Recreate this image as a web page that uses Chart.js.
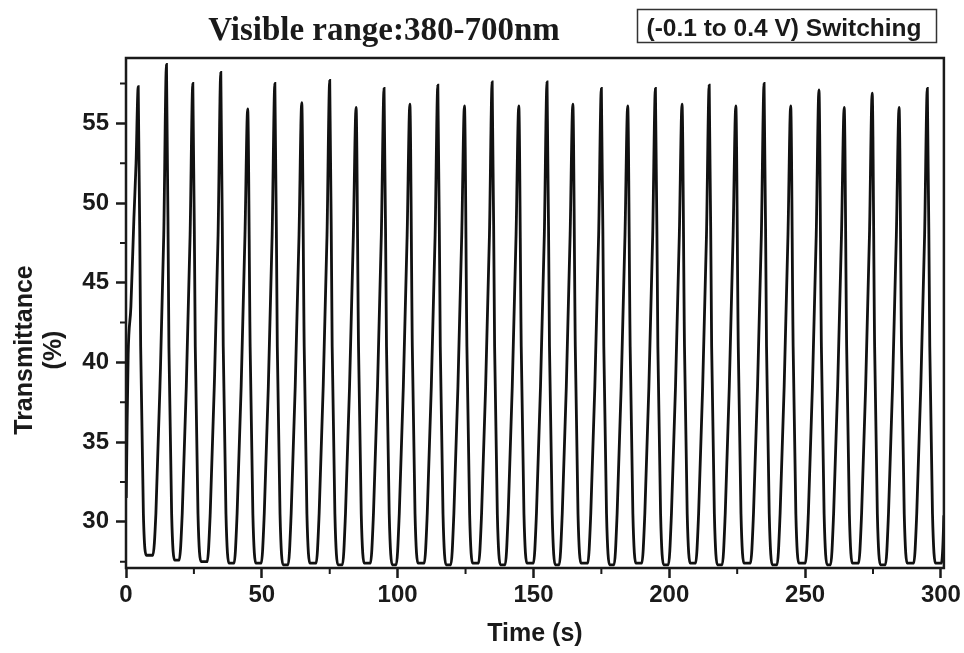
<!DOCTYPE html>
<html lang="en">
<head>
<meta charset="UTF-8">
<title>Transmittance switching</title>
<script src="https://cdn.jsdelivr.net/npm/chart.js"></script>
<style>
  html, body { margin: 0; padding: 0; background: #fff; }
  #wrap { width: 964px; height: 653px; }
</style>
</head>
<body>
<div id="wrap"><canvas id="switchChart" width="964" height="653"></canvas></div>
<script>
// time (s) and transmittance (%), one line per cycle
const timeS = [
  0.1, 0.4, 0.8, 1.8, 2.9, 3.7, 4.5,
  5.4, 6.4, 7.5, 9.9, 11.0, 12.5, 13.9, 14.9,
  15.8, 16.8, 17.9, 19.6, 20.7, 22.2, 23.6, 24.6,
  25.5, 26.5, 27.6, 29.9, 31.0, 32.5, 33.9, 34.9,
  35.8, 36.8, 37.9, 39.8, 40.9, 42.4, 43.8, 44.8,
  45.7, 46.7, 47.8, 49.8, 50.9, 52.4, 53.8, 54.8,
  55.7, 56.7, 57.8, 59.7, 60.8, 62.3, 63.7, 64.7,
  65.6, 66.6, 67.7, 70.0, 71.1, 72.6, 74.0, 75.0,
  75.9, 76.9, 78.0, 79.7, 80.8, 82.3, 83.7, 84.7,
  85.6, 86.6, 87.7, 90.0, 91.1, 92.6, 94.0, 95.0,
  95.9, 96.9, 98.0, 99.5, 100.6, 102.1, 103.5, 104.5,
  105.4, 106.4, 107.5, 109.8, 110.9, 112.4, 113.8, 114.8,
  115.7, 116.7, 117.8, 119.6, 120.7, 122.2, 123.6, 124.6,
  125.5, 126.5, 127.6, 129.8, 130.9, 132.4, 133.8, 134.8,
  135.7, 136.7, 137.8, 139.6, 140.7, 142.2, 143.6, 144.6,
  145.5, 146.5, 147.6, 150.0, 151.1, 152.6, 154.0, 155.0,
  155.9, 156.9, 158.0, 159.5, 160.6, 162.1, 163.5, 164.5,
  165.4, 166.4, 167.5, 170.0, 171.1, 172.6, 174.0, 175.0,
  175.9, 176.9, 178.0, 179.7, 180.8, 182.3, 183.7, 184.7,
  185.6, 186.6, 187.7, 189.9, 191.0, 192.5, 193.9, 194.9,
  195.8, 196.8, 197.9, 199.7, 200.8, 202.3, 203.7, 204.7,
  205.6, 206.6, 207.7, 209.7, 210.8, 212.3, 213.7, 214.7,
  215.6, 216.6, 217.7, 219.5, 220.6, 222.1, 223.5, 224.5,
  225.4, 226.4, 227.5, 229.9, 231.0, 232.5, 233.9, 234.9,
  235.8, 236.8, 237.9, 239.7, 240.8, 242.3, 243.7, 244.7,
  245.6, 246.6, 247.7, 250.1, 251.2, 252.7, 254.1, 255.1,
  256.0, 257.0, 258.1, 259.4, 260.5, 262.0, 263.4, 264.4,
  265.3, 266.3, 267.4, 269.7, 270.8, 272.3, 273.7, 274.7,
  275.6, 276.6, 277.7, 279.6, 280.7, 282.2, 283.6, 284.6,
  285.5, 286.5, 287.6, 290.0, 291.1, 292.6, 294.0, 295.0,
  295.9, 296.9, 298.0, 300.2, 300.7, 301.1
];
const transPct = [
  31.5, 36, 40.5, 43.5, 49, 52.5, 57.3,
  41, 30.5, 27.9, 27.9, 30.5, 38.5, 48, 58.7,
  41, 30.5, 27.6, 27.6, 30.5, 38.5, 48, 57.5,
  41, 30.5, 27.5, 27.5, 30.5, 38.5, 48, 58.2,
  41, 30.5, 27.4, 27.4, 30.5, 38.5, 48, 55.9,
  41, 30.5, 27.4, 27.4, 30.5, 38.5, 48, 57.5,
  41, 30.5, 27.3, 27.3, 30.5, 38.5, 48, 56.3,
  41, 30.5, 27.4, 27.4, 30.5, 38.5, 48, 57.7,
  41, 30.5, 27.3, 27.3, 30.5, 38.5, 48, 56.0,
  41, 30.5, 27.4, 27.4, 30.5, 38.5, 48, 57.2,
  41, 30.5, 27.3, 27.3, 30.5, 38.5, 48, 56.2,
  41, 30.5, 27.4, 27.4, 30.5, 38.5, 48, 57.4,
  41, 30.5, 27.3, 27.3, 30.5, 38.5, 48, 56.1,
  41, 30.5, 27.4, 27.4, 30.5, 38.5, 48, 57.6,
  41, 30.5, 27.3, 27.3, 30.5, 38.5, 48, 56.1,
  41, 30.5, 27.4, 27.4, 30.5, 38.5, 48, 57.6,
  41, 30.5, 27.3, 27.3, 30.5, 38.5, 48, 56.2,
  41, 30.5, 27.4, 27.4, 30.5, 38.5, 48, 57.2,
  41, 30.5, 27.3, 27.3, 30.5, 38.5, 48, 56.1,
  41, 30.5, 27.4, 27.4, 30.5, 38.5, 48, 57.2,
  41, 30.5, 27.3, 27.3, 30.5, 38.5, 48, 56.2,
  41, 30.5, 27.4, 27.4, 30.5, 38.5, 48, 57.4,
  41, 30.5, 27.3, 27.3, 30.5, 38.5, 48, 56.1,
  41, 30.5, 27.4, 27.4, 30.5, 38.5, 48, 57.5,
  41, 30.5, 27.3, 27.3, 30.5, 38.5, 48, 56.1,
  41, 30.5, 27.4, 27.4, 30.5, 38.5, 48, 57.1,
  41, 30.5, 27.3, 27.3, 30.5, 38.5, 48, 56.0,
  41, 30.5, 27.4, 27.4, 30.5, 38.5, 48, 56.9,
  41, 30.5, 27.3, 27.3, 30.5, 38.5, 48, 56.0,
  41, 30.5, 27.4, 27.4, 30.5, 38.5, 48, 57.2,
  41, 30.5, 27.4, 27.4, 28.4, 30.4
];

const xTicks = [0, 50, 100, 150, 200, 250, 300];
const xMinorTicks = [25, 75, 125, 175, 225, 275];
const yTicks = [30, 35, 40, 45, 50, 55];
const yMinorTicks = [27.5, 32.5, 37.5, 42.5, 47.5, 52.5, 57.5];

const chartTitle = 'Visible range:380-700nm';
const boxLabel = '(-0.1 to 0.4 V) Switching';
const xTitle = 'Time (s)';
const yTitle = ['Transmittance', '(%)'];

const ink = '#1a1a1a';
const sansFamily = '"Liberation Sans", Arial, sans-serif';

// frame, minor ticks and the texts around the plot
const decorations = {
  id: 'decorations',
  afterDraw(chart) {
    const ctx = chart.ctx;
    const a = chart.chartArea;
    const xs = chart.scales.x, ys = chart.scales.y;
    ctx.save();
    ctx.strokeStyle = ink;
    ctx.lineWidth = 2.5;
    ctx.strokeRect(a.left, a.top, a.right - a.left, a.bottom - a.top);

    ctx.lineWidth = 2;
    ctx.beginPath();
    xMinorTicks.forEach(v => {
      const px = xs.getPixelForValue(v);
      ctx.moveTo(px, a.bottom);
      ctx.lineTo(px, a.bottom + 6);
    });
    yMinorTicks.forEach(v => {
      const py = ys.getPixelForValue(v);
      ctx.moveTo(a.left, py);
      ctx.lineTo(a.left - 6, py);
    });
    ctx.stroke();

    ctx.fillStyle = ink;
    ctx.textAlign = 'center';
    ctx.textBaseline = 'alphabetic';

    ctx.font = 'bold 33px "Liberation Serif", "Times New Roman", serif';
    ctx.fillText(chartTitle, 384, 40);

    ctx.font = 'bold 24.5px ' + sansFamily;
    ctx.fillText(boxLabel, 784, 36);
    ctx.lineWidth = 1.5;
    ctx.strokeStyle = '#333';
    ctx.strokeRect(637.5, 9.5, 299, 33);

    ctx.font = 'bold 25px ' + sansFamily;
    ctx.fillText(xTitle, (a.left + a.right) / 2, 641);

    ctx.translate(0, 350);
    ctx.rotate(-Math.PI / 2);
    ctx.fillText(yTitle[0], 0, 32);
    ctx.fillText(yTitle[1], 0, 61);
    ctx.restore();
  }
};

new Chart(document.getElementById('switchChart').getContext('2d'), {
  type: 'scatter',
  data: {
    datasets: [{
      data: timeS.map((t, i) => ({ x: t, y: transPct[i] })),
      showLine: true,
      borderColor: '#111',
      borderWidth: 2.8,
      pointRadius: 0,
      cubicInterpolationMode: 'monotone'
    }]
  },
  options: {
    responsive: false,
    devicePixelRatio: 1,
    animation: false,
    layout: { padding: { top: 58, right: 19, left: 0, bottom: 0 } },
    plugins: { legend: { display: false }, tooltip: { enabled: false } },
    scales: {
      x: {
        type: 'linear',
        min: 0,
        max: 301.1,
        afterBuildTicks: s => { s.ticks = xTicks.map(v => ({ value: v })); },
        afterFit: s => { s.height = 85; },
        ticks: { color: ink, font: { family: sansFamily, size: 24, weight: 'bold' }, padding: 3, maxRotation: 0 },
        grid: { drawOnChartArea: false, tickLength: 10, tickWidth: 2.5, tickColor: ink },
        border: { display: false }
      },
      y: {
        type: 'linear',
        min: 27.1,
        max: 59.1,
        afterBuildTicks: s => { s.ticks = yTicks.map(v => ({ value: v })); },
        afterFit: s => { s.width = 126; },
        ticks: { color: ink, font: { family: sansFamily, size: 24, weight: 'bold' }, padding: 7 },
        grid: { drawOnChartArea: false, tickLength: 10, tickWidth: 2.5, tickColor: ink },
        border: { display: false }
      }
    }
  },
  plugins: [decorations]
});
</script>
</body>
</html>
